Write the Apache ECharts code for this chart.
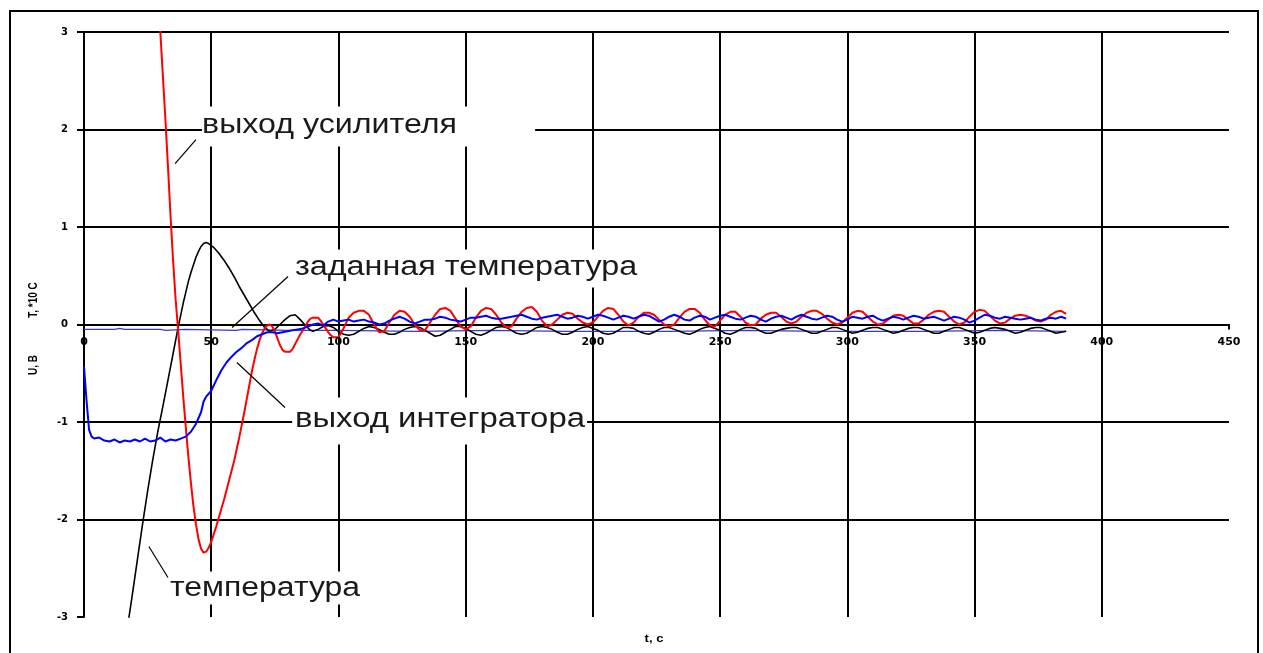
<!DOCTYPE html>
<html>
<head>
<meta charset="utf-8">
<script src="https://cdn.jsdelivr.net/npm/echarts@6/dist/echarts.min.js"></script>
<style>
  html, body { margin: 0; padding: 0; background: #fff; }
  #chart { width: 1263px; height: 653px; }
</style>
</head>
<body>
<div id="chart"></div>
<script>
// Time axis, seconds
const xTicks = { min: 0, max: 450, step: 50 };
const xTickLabels = ['0', '50', '100', '150', '200', '250', '300', '350', '400', '450'];
// Voltage / temperature axis
const yTicks = { min: -3, max: 3, step: 1 };

// Amplifier output, V  [t, U]
const amplifierOut = [
  [29,3.35],[30,3.0],[31,2.55],[32,2.1],[33,1.62],[34,1.12],[35,0.66],[36,0.26],[37,-0.06],[38,-0.4],
  [39,-0.74],[40,-1.05],[41,-1.35],[42,-1.62],[43,-1.86],[44,-2.05],[45,-2.2],[46,-2.3],[47,-2.34],[48,-2.33],
  [49,-2.29],[50,-2.23],[51,-2.15],[52,-2.07],[53,-1.98],[54,-1.89],[55,-1.8],[56,-1.7],[57,-1.6],[58,-1.5],
  [59,-1.4],[60,-1.28],[61,-1.16],[62,-1.03],[63,-0.9],[64,-0.76],[65,-0.62],[66,-0.48],[67,-0.36],[68,-0.25],
  [69,-0.16],[70,-0.09],[71,-0.04],[72,-0.01],[73,0.0],[74,-0.02],[75,-0.07],[76,-0.14],[77,-0.21],[78,-0.26],
  [79,-0.28],[81,-0.28],[82,-0.25],[83,-0.2],[84,-0.15],[85,-0.1],[86,-0.06],[87,-0.02],[88,0.03],[89,0.06],
  [90,0.07],[92,0.07],[93,0.04],[94,0.0],[95,-0.04],[96,-0.08],[97,-0.11],[98,-0.13],[100,-0.13],
  [102,-0.04],[104,0.07],[106,0.12],[108,0.14],[110,0.14],[112,0.1],[114,0.0],[116,-0.08],[118,-0.07],[120,0.02],
  [122,0.1],[124,0.14],[126,0.13],[128,0.08],[130,0.0],[132,-0.06],[134,-0.06],[136,0.02],[138,0.1],[140,0.16],
  [142,0.17],[144,0.14],[146,0.06],[148,-0.02],[150,-0.05],[152,-0.02],[154,0.07],[156,0.14],[158,0.17],[160,0.16],
  [162,0.1],[164,0.02],[166,-0.03],[168,-0.02],[170,0.06],[172,0.13],[174,0.17],[176,0.18],[178,0.13],[180,0.04],
  [182,-0.02],[184,0.0],[186,0.05],[188,0.1],[190,0.12],[192,0.11],[194,0.06],[196,0.02],[198,0.0],[200,0.02],
  [202,0.08],[204,0.14],[206,0.17],[208,0.16],[210,0.1],[212,0.03],[214,-0.01],[216,0.02],[218,0.08],[220,0.12],
  [222,0.12],[224,0.1],[226,0.05],[228,0.0],[230,-0.02],[232,0.0],[234,0.07],[236,0.13],[238,0.16],[240,0.16],
  [242,0.12],[244,0.05],[246,-0.01],[248,-0.02],[250,0.04],[252,0.1],[254,0.13],[256,0.13],[258,0.08],[260,0.02],
  [262,-0.01],[264,0.0],[266,0.06],[268,0.1],[270,0.12],[272,0.12],[274,0.08],[276,0.03],[278,0.01],[280,0.03],
  [282,0.08],[284,0.12],[286,0.14],[288,0.14],[290,0.11],[292,0.06],[294,0.02],[296,0.0],[298,0.02],[300,0.07],
  [302,0.12],[304,0.14],[306,0.13],[308,0.08],[310,0.03],[312,0.0],[314,0.01],[316,0.05],[318,0.09],[320,0.1],
  [322,0.09],[324,0.05],[326,0.01],[328,0.01],[330,0.05],[332,0.1],[334,0.13],[336,0.14],[338,0.13],[340,0.08],
  [342,0.03],[344,0.0],[346,0.02],[348,0.08],[350,0.13],[352,0.15],[354,0.14],[356,0.09],[358,0.04],[360,0.01],
  [362,0.02],[364,0.06],[366,0.09],[368,0.1],[370,0.09],[372,0.07],[374,0.04],[376,0.03],[378,0.05],[380,0.1],
  [382,0.13],[384,0.14],[386,0.11]
];

// Integrator output, V  [t, U]
const integratorOut = [
  [0,-0.43],[1,-0.78],[2,-1.08],[3,-1.15],[4,-1.17],[6,-1.16],[8,-1.19],[10,-1.2],[12,-1.18],[14,-1.21],
  [16,-1.19],[18,-1.2],[20,-1.18],[22,-1.2],[24,-1.17],[26,-1.2],[28,-1.19],[30,-1.16],[32,-1.2],[34,-1.18],
  [36,-1.19],[38,-1.17],[40,-1.15],[42,-1.1],[44,-1.02],[46,-0.9],[47,-0.79],[48,-0.74],[50,-0.68],[52,-0.57],
  [54,-0.47],[56,-0.39],[58,-0.33],[60,-0.28],[62,-0.24],[64,-0.19],[66,-0.16],[68,-0.12],[70,-0.1],[72,-0.08],
  [74,-0.08],[76,-0.09],[78,-0.08],[80,-0.07],[82,-0.06],[84,-0.05],[86,-0.04],[88,-0.02],[90,0.0],
  [92,0.01],[94,-0.01],[96,0.03],[98,0.05],[100,0.03],[102,0.04],[104,0.05],[106,0.03],[108,0.04],[110,0.05],
  [112,0.03],[114,0.02],[116,0.0],[118,0.01],[120,0.04],[122,0.06],[124,0.08],[126,0.06],[128,0.03],[130,0.01],
  [132,0.03],[134,0.05],[136,0.05],[138,0.06],[140,0.08],[142,0.07],[144,0.05],[146,0.04],[148,0.03],[150,0.05],
  [152,0.07],[154,0.07],[156,0.08],[158,0.09],[160,0.07],[162,0.06],[164,0.06],[166,0.07],[168,0.08],[170,0.09],
  [172,0.1],[174,0.08],[176,0.06],[178,0.05],[180,0.07],[182,0.08],[184,0.09],[186,0.1],[188,0.08],[190,0.06],
  [192,0.07],[194,0.09],[196,0.08],[198,0.06],[200,0.08],[202,0.1],[204,0.09],[206,0.07],[208,0.05],[210,0.07],
  [212,0.09],[214,0.08],[216,0.06],[218,0.08],[220,0.1],[222,0.09],[224,0.06],[226,0.03],[228,0.05],[230,0.08],
  [232,0.1],[234,0.08],[236,0.05],[238,0.04],[240,0.07],[242,0.09],[244,0.08],[246,0.05],[248,0.07],[250,0.09],
  [252,0.1],[254,0.08],[256,0.06],[258,0.05],[260,0.07],[262,0.09],[264,0.08],[266,0.05],[268,0.03],[270,0.06],
  [272,0.08],[274,0.09],[276,0.07],[278,0.05],[280,0.08],[282,0.1],[284,0.08],[286,0.06],[288,0.05],[290,0.07],
  [292,0.09],[294,0.08],[296,0.05],[298,0.03],[300,0.05],[302,0.08],[304,0.07],[306,0.06],[308,0.08],[310,0.09],
  [312,0.06],[314,0.04],[316,0.06],[318,0.08],[320,0.07],[322,0.05],[324,0.07],[326,0.09],[328,0.08],[330,0.06],
  [332,0.07],[334,0.08],[336,0.06],[338,0.04],[340,0.06],[342,0.08],[344,0.07],[346,0.05],[348,0.02],[350,0.04],
  [352,0.07],[354,0.1],[356,0.09],[358,0.07],[360,0.06],[362,0.08],[364,0.07],[366,0.06],[368,0.05],[370,0.06],
  [372,0.07],[374,0.05],[376,0.04],[378,0.06],[380,0.07],[382,0.06],[384,0.08],[386,0.06]
];

// Temperature, *10 C  [t, T]
const temperature = [
  [17,-3.12],[19,-2.77],[21,-2.41],[23,-2.05],[25,-1.71],[27,-1.39],[29,-1.1],[31,-0.84],[33,-0.57],[35,-0.3],
  [37,-0.03],[39,0.22],[40,0.33],[41,0.44],[42,0.53],[43,0.61],[44,0.69],[45,0.75],[46,0.8],[47,0.83],
  [48,0.84],[49,0.83],[50,0.81],[51,0.79],[53,0.73],[55,0.66],[57,0.58],[59,0.49],[61,0.39],[63,0.3],
  [65,0.21],[67,0.12],[69,0.04],[71,-0.03],[73,-0.07],[75,-0.05],[77,0.0],[79,0.05],[81,0.09],[83,0.1],
  [85,0.05],[87,-0.01],[89,-0.06],
  [90,-0.07],[92,-0.05],[94,-0.02],[96,-0.01],[98,-0.03],[100,-0.07],[102,-0.1],[104,-0.11],[106,-0.1],[108,-0.07],
  [110,-0.04],[112,-0.02],[114,-0.03],[116,-0.05],[118,-0.08],[120,-0.1],[122,-0.1],[124,-0.08],[126,-0.05],[128,-0.03],
  [130,-0.02],[132,-0.03],[134,-0.06],[136,-0.09],[138,-0.12],[140,-0.11],[142,-0.08],[144,-0.05],[146,-0.02],[148,-0.02],
  [150,-0.04],[152,-0.07],[154,-0.1],[156,-0.11],[158,-0.09],[160,-0.06],[162,-0.03],[164,-0.02],[166,-0.03],[168,-0.06],
  [170,-0.09],[172,-0.1],[174,-0.09],[176,-0.06],[178,-0.03],[180,-0.02],[182,-0.03],[184,-0.05],[186,-0.08],[188,-0.1],
  [190,-0.1],[192,-0.08],[194,-0.05],[196,-0.03],[198,-0.02],[200,-0.04],[202,-0.06],[204,-0.09],[206,-0.1],[208,-0.09],
  [210,-0.06],[212,-0.03],[214,-0.03],[216,-0.04],[218,-0.07],[220,-0.09],[222,-0.1],[224,-0.08],[226,-0.05],[228,-0.03],
  [230,-0.03],[232,-0.05],[234,-0.07],[236,-0.09],[238,-0.1],[240,-0.08],[242,-0.05],[244,-0.03],[246,-0.02],[248,-0.04],
  [250,-0.06],[252,-0.09],[254,-0.1],[256,-0.08],[258,-0.05],[260,-0.03],[262,-0.03],[264,-0.04],[266,-0.07],[268,-0.09],
  [270,-0.09],[272,-0.07],[274,-0.05],[276,-0.04],[278,-0.03],[280,-0.03],[282,-0.05],[284,-0.07],[286,-0.09],[288,-0.09],
  [290,-0.07],[292,-0.05],[294,-0.03],[296,-0.03],[298,-0.05],[300,-0.07],[302,-0.09],[304,-0.08],[306,-0.06],[308,-0.04],
  [310,-0.03],[312,-0.03],[314,-0.05],[316,-0.07],[318,-0.09],[320,-0.08],[322,-0.06],[324,-0.04],[326,-0.03],[328,-0.03],
  [330,-0.05],[332,-0.07],[334,-0.09],[336,-0.09],[338,-0.07],[340,-0.05],[342,-0.03],[344,-0.03],[346,-0.05],[348,-0.07],
  [350,-0.09],[352,-0.08],[354,-0.06],[356,-0.04],[358,-0.03],[360,-0.04],[362,-0.05],[364,-0.07],[366,-0.09],[368,-0.08],
  [370,-0.06],[372,-0.04],[374,-0.03],[376,-0.03],[378,-0.05],[380,-0.07],[382,-0.09],[384,-0.08],[386,-0.07]
];

// Set-point temperature, *10 C  [t, T]
const setpoint = [
  [0,-0.05],[12,-0.05],[14,-0.04],[16,-0.05],[30,-0.05],[32,-0.06],[40,-0.05],[60,-0.06],[62,-0.05],[80,-0.06],
  [100,-0.06],[130,-0.07],[160,-0.06],[190,-0.07],[230,-0.07],[260,-0.06],[290,-0.07],[330,-0.07],[360,-0.06],[386,-0.07]
];

// Curve captions: text, left edge / baseline and right edge in axis units,
// white backing box and leader line, also in axis units.
const captions = [
  { text: 'выход усилителя',      at: [46.4, 1.979],  endT: 146.6, box: [[46.4, 2.236], [177.3, 1.826]],   leader: [[35.8, 1.651], [44.0, 1.897]] },
  { text: 'заданная температура', at: [82.9, 0.513],  endT: 217.4, box: [[82.2, 0.769], [222.5, 0.379]],   leader: [[58.2, -0.031], [80.2, 0.492]] },
  { text: 'выход интегратора',    at: [82.9, -1.046], endT: 196.9, box: [[81.8, -0.749], [197.7, -1.231]], leader: [[60.1, -0.390], [79.0, -0.851]] },
  { text: 'температура',          at: [33.8, -2.779], endT: 108.5, box: [[33.0, -2.533], [109.3, -2.872]], leader: [[25.5, -2.277], [33.0, -2.595]] }
];

const ink = '#000';
const tickFontCss = 'bold 10px "DejaVu Sans", sans-serif';
const tickFont = { fontFamily: '"DejaVu Sans", sans-serif', fontSize: 10, fontWeight: 'bold', color: ink };

const chart = echarts.init(document.getElementById('chart'), null, { renderer: 'canvas' });

chart.setOption({
  animation: false,
  backgroundColor: '#fff',
  grid: { left: 84, right: 34, top: 32, bottom: 36 },
  xAxis: {
    type: 'value', min: xTicks.min, max: xTicks.max, interval: xTicks.step,
    axisLine: { onZero: true, lineStyle: { color: ink, width: 2 } },
    axisTick: { show: true, length: 5, lineStyle: { color: ink, width: 2 } },
    // tick labels follow the zero line; they are placed in the overlay below
    axisLabel: { show: false },
    splitLine: { show: true, showMinLine: true, showMaxLine: false, lineStyle: { color: ink, width: 2 } }
  },
  yAxis: {
    type: 'value', min: yTicks.min, max: yTicks.max, interval: yTicks.step,
    axisLine: { show: true, onZero: false, lineStyle: { color: ink, width: 2 } },
    axisTick: { show: true, length: 7, lineStyle: { color: ink, width: 2 } },
    axisLabel: Object.assign({ margin: 16 }, tickFont),
    splitLine: { show: true, showMinLine: false, showMaxLine: true, lineStyle: { color: ink, width: 2 } }
  },
  series: [
    { name: 'заданная температура', type: 'line', data: setpoint, showSymbol: false, silent: true, z: 3,
      lineStyle: { color: '#3a3ac8', width: 1.2 } },
    { name: 'температура', type: 'line', data: temperature, showSymbol: false, silent: true, z: 4,
      lineStyle: { color: '#000', width: 1.6 } },
    { name: 'выход усилителя', type: 'line', data: amplifierOut, showSymbol: false, silent: true, z: 5,
      lineStyle: { color: '#ff0000', width: 2 } },
    { name: 'выход интегратора', type: 'line', data: integratorOut, showSymbol: false, silent: true, z: 6,
      lineStyle: { color: '#0000ff', width: 2 } }
  ]
});

// Overlay: frame, axis titles, time tick labels, captions with leader lines
const toPx = (p) => chart.convertToPixel({ gridIndex: 0 }, p);
const capFontSize = 27;
const capFont = capFontSize + 'px "Liberation Sans", Arial, sans-serif';
const measureCtx = document.createElement('canvas').getContext('2d');
measureCtx.font = capFont;

const centered = { textAlign: 'center', textVerticalAlign: 'middle', align: 'center', verticalAlign: 'middle' };

const overlay = [
  { type: 'rect', z: 10, shape: { x: 10, y: 11, width: 1248, height: 700 },
    style: { fill: 'none', stroke: ink, lineWidth: 2 } },
  { type: 'text', z: 10, x: 33, y: 300, rotation: Math.PI / 2, scaleY: 1.3,
    style: Object.assign({ text: 'T, *10 C', font: 'bold 10px "Liberation Sans", Arial, sans-serif', fill: ink }, centered) },
  { type: 'text', z: 10, x: 33, y: 365, rotation: Math.PI / 2, scaleY: 1.3,
    style: Object.assign({ text: 'U, B', font: 'bold 10px "Liberation Sans", Arial, sans-serif', fill: ink }, centered) },
  { type: 'text', z: 10, x: 654, y: 639, scaleX: 1.3,
    style: Object.assign({ text: 't, c', font: 'bold 10px "Liberation Sans", Arial, sans-serif', fill: ink }, centered) }
];

xTickLabels.forEach(function (label, i) {
  const p = toPx([xTicks.min + i * xTicks.step, 0]);
  overlay.push({ type: 'text', z: 10, silent: true, x: p[0], y: p[1] + 18, scaleX: 1.1,
    style: Object.assign({ text: label, font: tickFontCss, fill: ink }, centered) });
});

captions.forEach(function (c) {
  const a = toPx(c.box[0]), b = toPx(c.box[1]);
  overlay.push({ type: 'rect', z: 1, silent: true,
    shape: { x: a[0], y: a[1], width: b[0] - a[0], height: b[1] - a[1] },
    style: { fill: '#fff' } });
  const l0 = toPx(c.leader[0]), l1 = toPx(c.leader[1]);
  overlay.push({ type: 'line', z: 10, silent: true,
    shape: { x1: l0[0], y1: l0[1], x2: l1[0], y2: l1[1] },
    style: { stroke: ink, lineWidth: 1.2 } });
  const p = toPx(c.at), e = toPx([c.endT, c.at[1]]);
  const sx = (e[0] - p[0]) / measureCtx.measureText(c.text).width;
  overlay.push({ type: 'text', z: 10, silent: true, x: p[0], y: p[1] - 0.24 * capFontSize, scaleX: sx,
    style: { text: c.text, font: capFont, fill: '#1a1a1a',
             textAlign: 'left', textVerticalAlign: 'middle', align: 'left', verticalAlign: 'middle' } });
});

chart.setOption({ graphic: overlay });
</script>
</body>
</html>
